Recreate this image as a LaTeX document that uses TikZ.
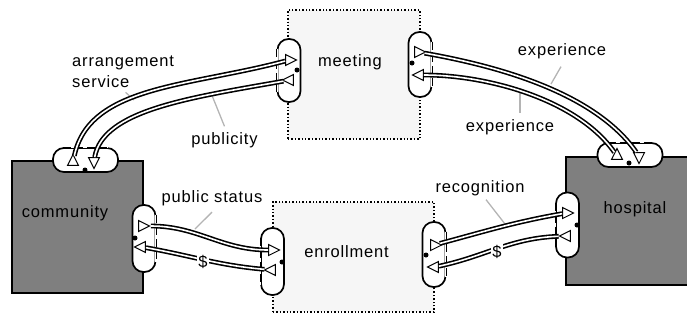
\documentclass[tikz,border=0pt]{standalone}
\usepackage{fontspec}
\setmainfont[LetterSpace=5]{Liberation Sans}
\usetikzlibrary{shapes.geometric}
\definecolor{actorgray}{HTML}{7F7F7F}
\definecolor{actfill}{HTML}{F6F6F6}
\definecolor{leadgray}{HTML}{B4B4B4}

\begin{document}
\begin{tikzpicture}[x=1pt, y=1pt, every node/.style={inner sep=0pt, font=\fontsize{16.5}{21.5}\selectfont},
  actor/.style={draw, line width=1.6pt, fill=actorgray},
  activity/.style={draw, line width=1.4pt, dotted, fill=actfill},
  iface/.style={draw, line width=1.7pt, fill=white, rounded corners=11pt},
  vface/.style={iface, minimum width=23pt, minimum height=65pt},
  hface/.style={iface, minimum width=65pt, minimum height=24pt},
  outeredge/.style={line width=1.3pt, dash pattern=on 8pt off 4pt},
  vport/.style={draw, line width=1pt, fill=white, isosceles triangle, isosceles triangle stretches, minimum width=11pt, minimum height=11pt},
  rport/.style={vport, shape border rotate=0},
  lport/.style={vport, shape border rotate=180},
  uport/.style={vport, shape border rotate=90},
  dport/.style={vport, shape border rotate=270},
  dot/.style={circle, fill=black, minimum size=5pt},
  flow/.style={draw=black, line width=1.6pt, double=white, double distance=1.6pt},
  leader/.style={draw=leadgray, line width=1.3pt},
  pay/.style={fill=white, inner sep=1.5pt}]
\path[use as bounding box, clip] (0,0) rectangle (687,-322);

\node[actor, minimum width=131pt, minimum height=132pt] (community) at (77.5,-227) {};
\node[actor, minimum width=136pt, minimum height=128pt] (hospital) at (634,-221) {};
\node[activity, minimum width=132pt, minimum height=129pt] (meeting) at (354,-74.5) {};
\node[activity, minimum width=161pt, minimum height=110pt] (enrollment) at (353.5,-257) {};

\node[anchor=base] (communitylbl) at (65,-217) {community};
\node[anchor=base] (hospitallbl) at (635,-213) {hospital};
\node[anchor=base] (meetinglbl) at (350,-66) {meeting};
\node[anchor=base] (enrollmentlbl) at (346.5,-257) {enrollment};

\node[anchor=west, align=left] (arrlbl) at (72,-71.5) {arrangement\\service};
\node[anchor=base] (publbl) at (224.5,-144.5) {publicity};
\node[anchor=base] (exp1lbl) at (562,-55) {experience};
\node[anchor=base] (exp2lbl) at (510,-131) {experience};
\node[anchor=base] (statuslbl) at (212,-202) {public status};
\node[anchor=base] (recoglbl) at (480,-192) {recognition};

\coordinate (arrpt) at (134,-100);
\coordinate (pubpt) at (211,-93);
\coordinate (exp1pt) at (551,-84);
\coordinate (exp2pt) at (520,-88);
\coordinate (statuspt) at (195,-229);
\coordinate (recogpt) at (505,-224);
\draw[leader] ([shift={(2.5,-4.5)}]arrlbl.south) -- (arrpt);
\draw[leader] ([yshift=6pt]publbl.north) -- (pubpt);
\draw[leader] ([shift={(-1,-8)}]exp1lbl.south) -- (exp1pt);
\draw[leader] ([shift={(10,6)}]exp2lbl.north) -- (exp2pt);
\draw[leader] ([yshift=-6.5pt]statuslbl.south) -- (statuspt);
\draw[leader] ([shift={(6,-4)}]recoglbl.south) -- (recogpt);

\node[vface, minimum height=63pt] (mlp) at (289,-70.5) {};
\node[vface] (mrp) at (420,-64.5) {};
\node[hface] (ctp) at (85.5,-160) {};
\node[hface] (htp) at (630,-155) {};
\node[vface, minimum height=67pt] (crp) at (144,-238.5) {};
\node[vface, minimum height=67pt] (elp) at (272.5,-261.5) {};
\node[vface] (erp) at (434,-254.5) {};
\node[vface] (hlp) at (567.5,-225) {};

\foreach \p/\a/\b in {mlp/north west/south west, mrp/north east/south east, crp/north east/south east,
                      elp/north west/south west, erp/north east/south east, hlp/north west/south west}{
  \draw[white, line width=2.4pt] ([yshift=-11pt]\p.\a) -- ([yshift=11pt]\p.\b);
  \draw[outeredge] ([yshift=-11pt]\p.\a) -- ([yshift=11pt]\p.\b);
}
\foreach \p in {ctp, htp}{
  \draw[white, line width=2.4pt] ([xshift=11pt]\p.north west) -- ([xshift=-11pt]\p.north east);
  \draw[outeredge] ([xshift=11pt]\p.north west) -- ([xshift=-11pt]\p.north east);
}

\node[rport] (ml1) at (289,-60) {};
\node[lport] (ml2) at (290,-80) {};
\node[rport] (mr1) at (418,-52) {};
\node[lport] (mr2) at (420,-75) {};
\node[uport] (ct1) at (73,-162) {};
\node[dport] (ct2) at (94,-161) {};
\node[uport] (ht1) at (617,-156) {};
\node[dport] (ht2) at (639,-156) {};
\node[rport] (cr1) at (142,-226) {};
\node[lport] (cr2) at (142,-247) {};
\node[rport] (el1) at (272,-250) {};
\node[lport] (el2) at (272,-270) {};
\node[rport] (er1) at (434,-245) {};
\node[lport] (er2) at (435,-267) {};
\node[rport] (hl1) at (566,-213) {};
\node[lport] (hl2) at (567,-236) {};

\draw[flow] (ct1) to[out=78, in=195, out looseness=0.8, in looseness=1.1] (ml1);
\draw[flow] (ct2) to[out=80, in=190, out looseness=0.6, in looseness=1.2] (ml2);
\draw[flow] (mr1) to[out=-10, in=125, looseness=0.8] (ht2);
\draw[flow] (mr2) to[out=0, in=125, looseness=0.8] (ht1);
\draw[flow] (cr1) to[out=0, in=180] (el1);
\draw[flow] (cr2) to[out=-10, in=175] (el2);
\draw[flow] (er1) to[out=15, in=190] (hl1);
\draw[flow] (hl2) to[out=182, in=12] (er2);

\node[dot] (mld) at (297,-70) {};
\node[dot] (mrd) at (412,-63) {};
\node[dot] (ctd) at (85,-170) {};
\node[dot] (htd) at (629,-163) {};
\node[dot] (crd) at (135,-238) {};
\node[dot] (eld) at (282,-262) {};
\node[dot] (erd) at (426,-255) {};
\node[dot] (hld) at (577,-225) {};

\node[pay] (pay1) at (203,-262) {\$};
\node[pay] (pay2) at (497,-252) {\$};
\end{tikzpicture}
\end{document}
